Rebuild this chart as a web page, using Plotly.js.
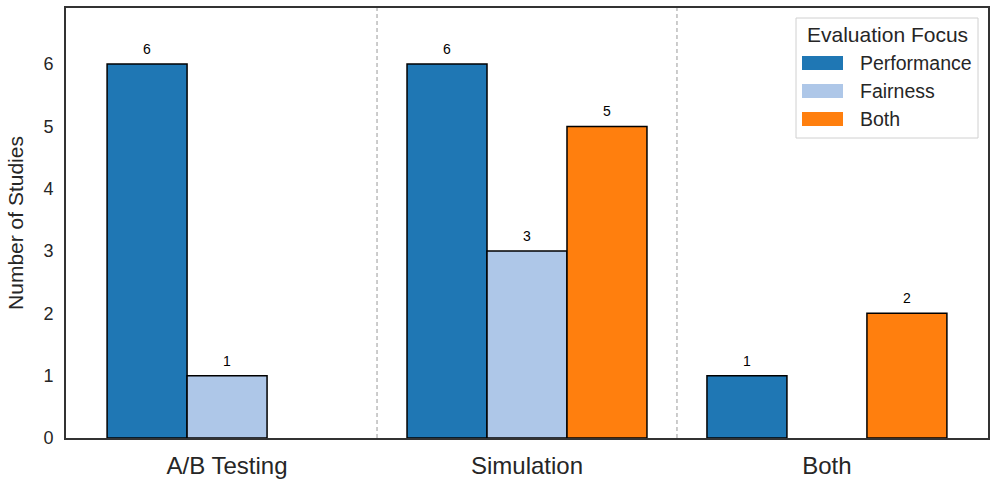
<!DOCTYPE html>
<html><head><meta charset="utf-8">
<script src="https://cdn.plot.ly/plotly-3.0.1.min.js"></script>
<style>html,body{margin:0;padding:0;background:#fff}#chart{width:997px;height:484px}</style>
</head><body><div id="chart"></div>
<script>
const categories = ["A/B Testing", "Simulation", "Both"];
const seriesNames = ["Performance", "Fairness", "Both"];
const performance = [6, 6, 1];
const fairness = [1, 3, 0];
const both = [0, 5, 2];
const yTicks = [0, 1, 2, 3, 4, 5, 6];
const legendTitle = "Evaluation Focus";
const yTitle = "Number of Studies";

const colors = ["#1f77b4", "#aec7e8", "#ff7f0e"];
const values = [performance, fairness, both];
const xs = categories.map((c, i) => i);
const FONT = "Liberation Sans, Arial, Helvetica, sans-serif";
const TXT = "#262626";

const traces = values.map((v, j) => ({
  type: "bar", x: xs, y: v.map(d => d === 0 ? null : d), name: seriesNames[j],
  marker: {color: colors[j], line: {color: "#000", width: 1.5}},
  showlegend: false, hoverinfo: "skip"
}));

// plot area in pixels
const L = 66, T = 8, R = 988, B = 438;
const px = x => (x - L) / (R - L);
const py = y => (B - y) / (B - T);

const barW = 0.8 / 3;
const annotations = [];
values.forEach((v, j) => v.forEach((val, i) => {
  if (val > 0) annotations.push({
    x: i + (j - 1) * barW, y: val, xref: "x", yref: "y", text: String(val),
    showarrow: false, yanchor: "bottom", yshift: 5,
    font: {family: FONT, size: 14, color: "#000"}
  });
}));

const shapes = [0.5, 1.5].map(x => ({
  type: "line", xref: "x", yref: "paper", x0: x, x1: x, y0: 0, y1: 1,
  line: {color: "#999999", width: 1, dash: "4px,3px"}, layer: "below"
}));

// legend box
shapes.push({type: "rect", xref: "paper", yref: "paper",
  x0: px(796), x1: px(978), y0: py(138), y1: py(18),
  line: {color: "#d0d0d0", width: 1}, fillcolor: "rgba(255,255,255,0.85)"});
annotations.push({xref: "paper", yref: "paper", x: px(887), y: py(34), text: legendTitle,
  showarrow: false, xanchor: "center", yanchor: "middle",
  font: {family: FONT, size: 21, color: TXT}});
const rowY = [63, 91, 119];
seriesNames.forEach((n, j) => {
  shapes.push({type: "rect", xref: "paper", yref: "paper",
    x0: px(802), x1: px(843), y0: py(rowY[j] + 7), y1: py(rowY[j] - 7),
    line: {width: 0}, fillcolor: colors[j]});
  annotations.push({xref: "paper", yref: "paper", x: px(858), y: py(rowY[j]), text: n,
    showarrow: false, xanchor: "left", yanchor: "middle",
    font: {family: FONT, size: 19.5, color: TXT}});
});

const layout = {
  width: 997, height: 484,
  margin: {l: L, r: 997 - R, t: T, b: 484 - B},
  paper_bgcolor: "#fff", plot_bgcolor: "#fff",
  barmode: "group", bargap: 0.2, bargroupgap: 0,
  font: {family: FONT, color: TXT},
  xaxis: {range: [-0.537, 2.537], tickvals: xs, ticktext: categories,
    showgrid: false, zeroline: false, showline: true, mirror: true,
    linecolor: "#333", linewidth: 2, ticks: "", ticklen: 0, ticklabelstandoff: 5,
    tickfont: {family: FONT, size: 24, color: TXT}},
  yaxis: {range: [0, 6.9], tickvals: yTicks, showgrid: false, zeroline: false,
    showline: true, mirror: true, linecolor: "#333", linewidth: 2, ticks: "",
    ticklabelstandoff: 7,
    tickfont: {family: FONT, size: 18, color: TXT},
    title: {text: yTitle, font: {family: FONT, size: 21, color: TXT}, standoff: 14}},
  shapes, annotations
};
Plotly.newPlot("chart", traces, layout, {displayModeBar: false, staticPlot: true});
</script></body></html>
